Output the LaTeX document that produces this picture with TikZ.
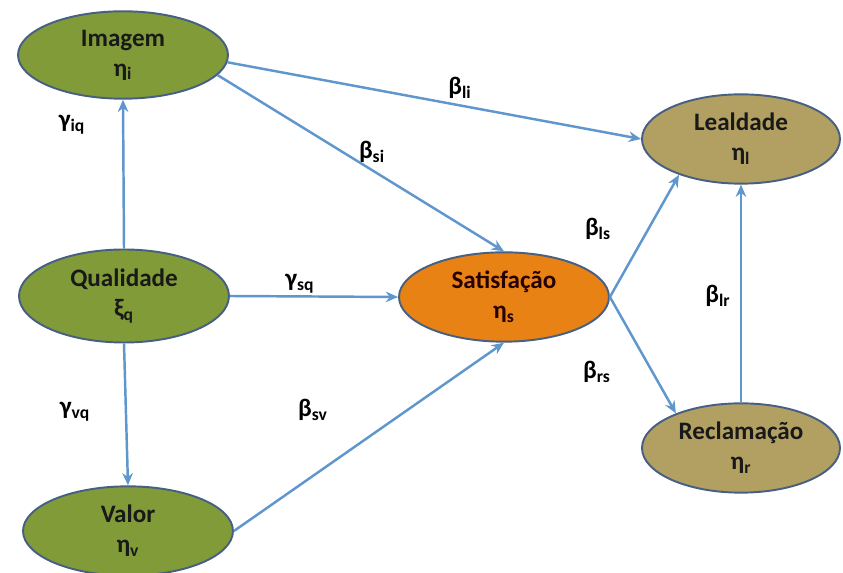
\documentclass[tikz,border=0pt]{standalone}
\usepackage{fontspec}
\setsansfont{Carlito}
\usepackage{xcolor}
\usepackage{tikz}
\usetikzlibrary{arrows.meta,shapes.geometric}

\definecolor{verde}{RGB}{128,155,55}
\definecolor{areia}{RGB}{178,160,98}
\definecolor{laranja}{RGB}{232,130,20}
\definecolor{contorno}{RGB}{70,95,130}
\definecolor{seta}{RGB}{95,150,205}

\begin{document}
\begin{tikzpicture}[
    x=0.02cm, y=-0.02cm,
    font=\sffamily\bfseries\fontsize{14.3}{17}\selectfont,
    >={Stealth[length=7pt,width=6pt]},
    construto/.style={draw=contorno, line width=1.1pt, ellipse, align=center, text=black!90, minimum width=4.2cm, minimum height=1.68cm},
    rotulo/.style={inner sep=1pt},
    caminho/.style={->, draw=seta, line width=1.4pt}
]
\useasboundingbox (0,0) rectangle (843,573);

% construtos
\node[construto, fill=verde] (imagem) at (123,55) {Imagem\\η\textsubscript{i}};
\node[construto, fill=verde] (qualidade) at (124,296) {Qualidade\\ξ\textsubscript{q}};
\node[construto, fill=verde] (valor) at (128,531) {Valor\\η\textsubscript{v}};
\node[construto, fill=laranja, text=black!85!red] (satisfacao) at (504,297) {Satisfação\\η\textsubscript{s}};
\node[construto, fill=areia, minimum width=3.96cm, minimum height=1.56cm] (lealdade) at (741,139) {Lealdade\\η\textsubscript{l}};
\node[construto, fill=areia, minimum width=3.96cm, minimum height=1.64cm] (reclamacao) at (741,448) {Reclamação\\η\textsubscript{r}};

% coeficientes
\node[rotulo] (giq) at (72,125) {γ\textsubscript{iq}};
\node[rotulo] (gvq) at (75,412) {γ\textsubscript{vq}};
\node[rotulo] (gsq) at (300,284) {γ\textsubscript{sq}};
\node[rotulo] (bli) at (460,88) {β\textsubscript{li}};
\node[rotulo] (bsi) at (372,152) {β\textsubscript{si}};
\node[rotulo] (bsv) at (313,410) {β\textsubscript{sv}};
\node[rotulo] (bls) at (598,229) {β\textsubscript{ls}};
\node[rotulo] (brs) at (597,372) {β\textsubscript{rs}};
\node[rotulo] (blr) at (718,296) {β\textsubscript{lr}};

% caminhos
\draw[caminho] (qualidade.north) -- (imagem.south);
\draw[caminho] (qualidade.south) -- (valor.north);
\draw[caminho] (qualidade.east) -- (satisfacao.west);
\draw[caminho] (imagem.-4) -- (lealdade.west);
\draw[caminho] (imagem.-12) -- (satisfacao.north);
\draw[caminho] (valor.east) -- (satisfacao.south);
\draw[caminho] (satisfacao.east) -- (lealdade.210);
\draw[caminho] (satisfacao.east) -- (reclamacao.152);
\draw[caminho] (reclamacao.north) -- (lealdade.south);

\end{tikzpicture}
\end{document}
